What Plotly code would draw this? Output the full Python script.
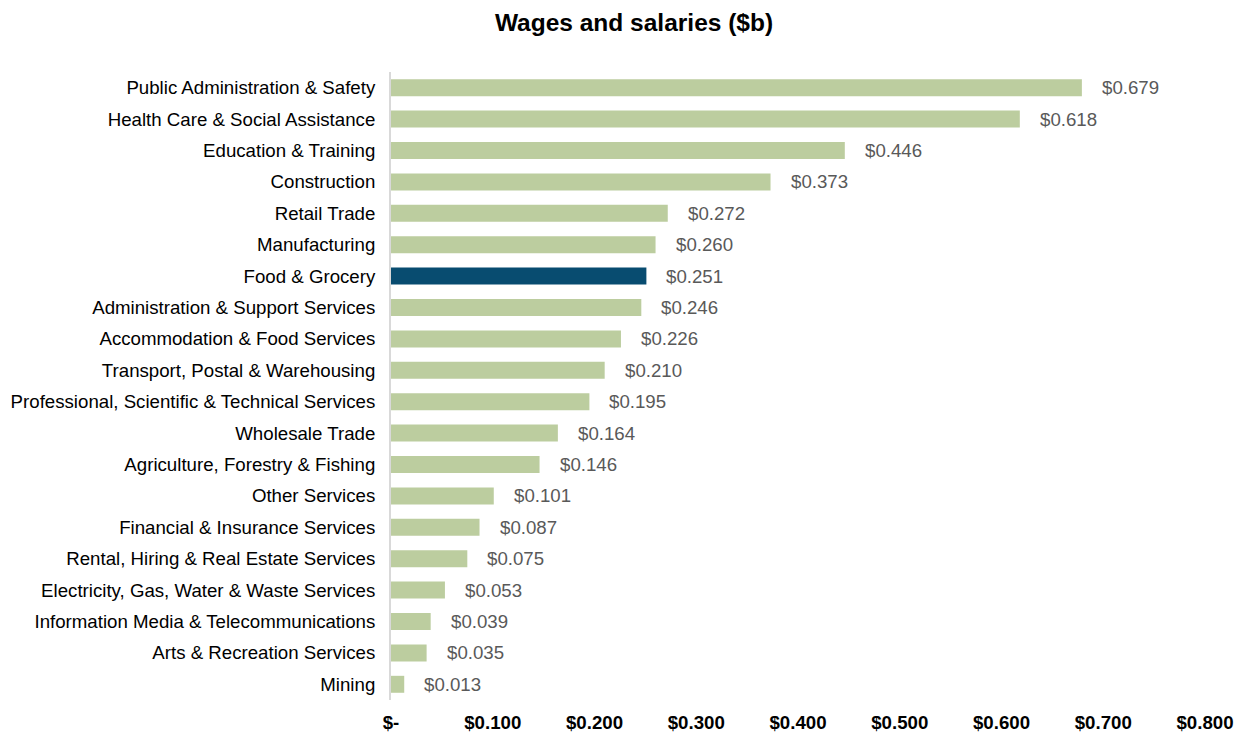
import plotly.graph_objects as go

categories = [
    "Public Administration & Safety",
    "Health Care & Social Assistance",
    "Education & Training",
    "Construction",
    "Retail Trade",
    "Manufacturing",
    "Food & Grocery",
    "Administration & Support Services",
    "Accommodation & Food Services",
    "Transport, Postal & Warehousing",
    "Professional, Scientific & Technical Services",
    "Wholesale Trade",
    "Agriculture, Forestry & Fishing",
    "Other Services",
    "Financial & Insurance Services",
    "Rental, Hiring & Real Estate Services",
    "Electricity, Gas, Water & Waste Services",
    "Information Media & Telecommunications",
    "Arts & Recreation Services",
    "Mining",
]
values = [0.679, 0.618, 0.446, 0.373, 0.272, 0.260, 0.251, 0.246, 0.226, 0.210,
          0.195, 0.164, 0.146, 0.101, 0.087, 0.075, 0.053, 0.039, 0.035, 0.013]
highlight = "Food & Grocery"
tick_vals = [0, 0.1, 0.2, 0.3, 0.4, 0.5, 0.6, 0.7, 0.8]
tick_text = ["$-", "$0.100", "$0.200", "$0.300", "$0.400", "$0.500", "$0.600", "$0.700", "$0.800"]

GREEN = "#bccd9f"
BLUE = "#084c70"
FONT = "Liberation Sans, Arial"
colors = [BLUE if c == highlight else GREEN for c in categories]

# page body adds an 8px offset; figure is sized/positioned to compensate
W, H = 1227, 726

fig = go.Figure(go.Bar(
    y=categories, x=values, orientation="h",
    marker=dict(color=colors, line=dict(width=0)),
    width=0.54,
    hoverinfo="skip",
))

for c, v in zip(categories, values):
    fig.add_annotation(
        x=v, y=c, xref="x", yref="y", text=f"${v:.3f}",
        showarrow=False, xanchor="left", xshift=18,
        font=dict(family=FONT, size=18.67, color="#595959"),
    )

fig.update_layout(
    width=W, height=H,
    margin=dict(l=383, r=30, t=64, b=H - 692, autoexpand=False),
    paper_bgcolor="white", plot_bgcolor="white",
    showlegend=False,
    title=dict(text="<b>Wages and salaries ($b)</b>", x=626/W, xanchor="center",
               y=1 - 14/H, yanchor="middle",
               font=dict(family=FONT, size=24.5, color="black")),
    font=dict(family=FONT, size=18.67, color="black"),
    xaxis=dict(range=[0, 0.8], tickvals=tick_vals, ticktext=tick_text,
               showgrid=False, zeroline=False, showline=False,
               tickfont=dict(family=FONT, size=18.67, color="black", weight="bold"),
               ticklabelstandoff=9),
    yaxis=dict(categoryorder="array", categoryarray=categories, autorange="reversed",
               showgrid=False, zeroline=False, showline=True, linecolor="#d9d9d9", linewidth=2,
               tickfont=dict(family=FONT, size=18.67, color="black"),
               ticklabelstandoff=10),
)

fig.write_html("out.html")
